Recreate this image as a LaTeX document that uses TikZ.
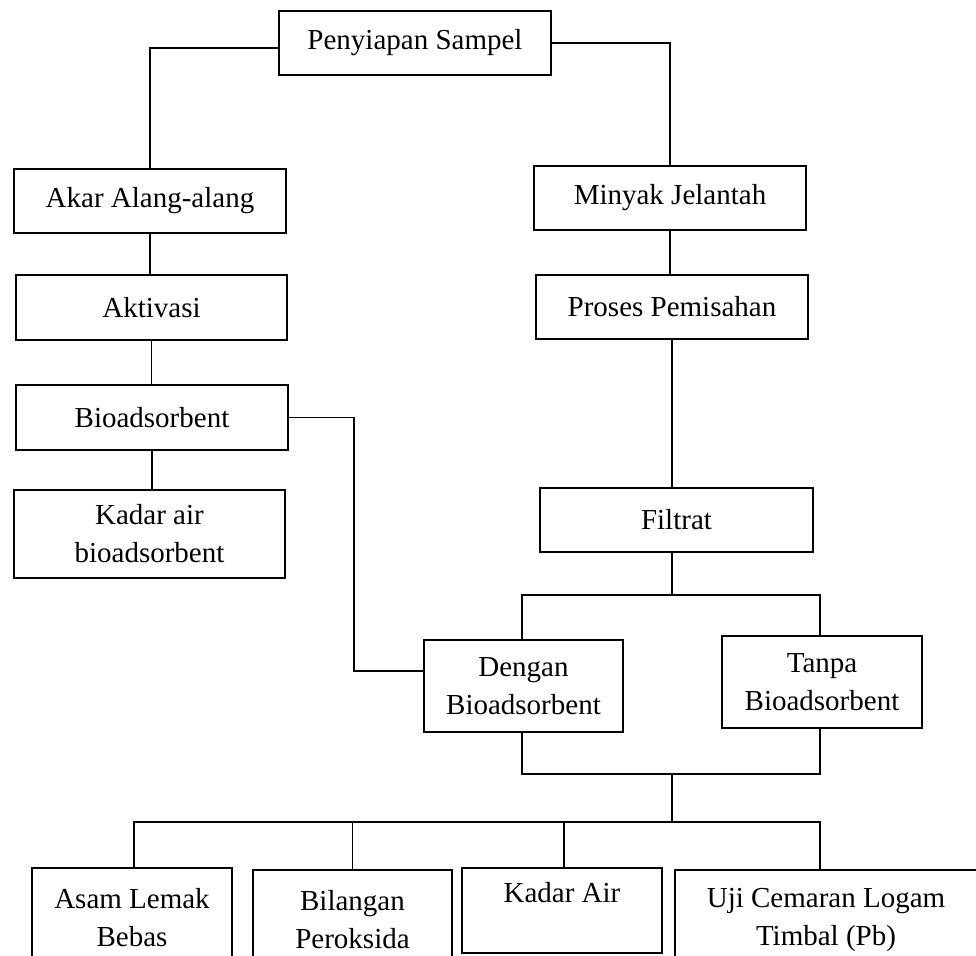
\documentclass[tikz,border=0pt]{standalone}
\usepackage{fontspec}
\setmainfont{Liberation Serif}
\begin{document}
\begin{tikzpicture}[x=0.75pt,y=-0.75pt,
  box/.style={draw, line width=1.5pt, align=center, inner sep=0pt,
    font=\fontsize{21.75pt}{28.5pt}\selectfont},
  conn/.style={line width=1.3pt}]
\useasboundingbox (0,0) rectangle (976,956);
\clip (0,0) rectangle (976,956);
% boxes
\node[box, minimum width=204pt, minimum height=48pt] (P) at (415,43) {Penyiapan Sampel};
\node[box, minimum width=204pt, minimum height=48pt] (A) at (150,201) {Akar Alang-alang};
\node[box, minimum width=204pt, minimum height=48pt] (M) at (670,198) {Minyak Jelantah};
\node[box, minimum width=203.25pt, minimum height=48.75pt] (Ak) at (151.5,307.5) {Aktivasi};
\node[box, minimum width=204pt, minimum height=48pt] (Pr) at (672,307) {Proses Pemisahan};
\node[box, minimum width=204pt, minimum height=48.75pt] (B) at (152,417.5) {Bioadsorbent};
\node[box, minimum width=203.25pt, minimum height=66pt] (K) at (149.5,534) {Kadar air\\bioadsorbent};
\node[box, minimum width=204.75pt, minimum height=48pt] (F) at (676.5,520) {Filtrat};
\node[box, minimum width=149.25pt, minimum height=69pt] (D) at (523.5,686) {Dengan\\Bioadsorbent};
\node[box, minimum width=150pt, minimum height=69pt] (T) at (822,682) {Tanpa\\Bioadsorbent};
\node[box, minimum width=150pt, minimum height=75pt] (As) at (132,918) {Asam Lemak\\Bebas};
\node[box, minimum width=149.25pt, minimum height=75pt] (Bi) at (352.5,920) {Bilangan\\Peroksida};
\node[box, minimum width=150pt, minimum height=63.75pt] (Ka) at (562,910.5) {Kadar Air\\[-9.75pt]\strut};
\node[box, minimum width=226.5pt, minimum height=75pt] (U) at (826,920) {Uji Cemaran Logam\\Timbal (Pb)};
% connectors
\draw[conn] ([yshift=-3.75pt]P.west) -| (A.north);
\draw[conn] (P.east) -| (M.north);
\draw[conn] (A.south) -- (A.south |- Ak.north);
\draw[conn] (M.south) -- (M.south |- Pr.north);
\draw[conn] (Ak.south) -- (Ak.south |- B.north);
\draw[conn] (B.south) -- (B.south |- K.north);
\draw[conn] (Pr.south) -- (Pr.south |- F.north);
\coordinate (bx) at (354,417.5);
\draw[conn] (B.east) -- (bx) |- ([yshift=11.25pt]D.west);
\coordinate (j1) at (672,595);
\draw[conn] (j1 |- F.south) -- (j1);
\draw[conn] ([xshift=-1.125pt]D.north) |- (j1) -| ([xshift=-1.5pt]T.north);
\coordinate (j2) at (672,774);
\draw[conn] ([xshift=-1.125pt]D.south) |- (j2) -| ([xshift=-1.5pt]T.south);
\coordinate (j3) at (672,822);
\draw[conn] (j2) -- (j3);
\draw[conn] ([xshift=1.5pt]As.north) |- (j3) -| ([xshift=-4.5pt]U.north);
\draw[conn] (Bi.north) -- (Bi.north |- j3);
\draw[conn] ([xshift=1.5pt]Ka.north) -- ([xshift=1.5pt]Ka.north |- j3);
\end{tikzpicture}
\end{document}
